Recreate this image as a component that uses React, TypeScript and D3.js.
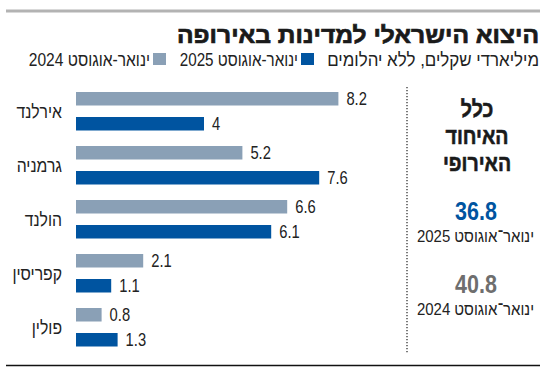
import React from "react";
import * as d3 from "d3";

const countries = ["אירלנד", "גרמניה", "הולנד", "קפריסין", "פולין"];
const series = ["2024", "2025"];
const values2024 = [8.2, 5.2, 6.6, 2.1, 0.8];
const values2025 = [4, 7.6, 6.1, 1.1, 1.3];
const totals = [
  { year: "2025", value: 36.8 },
  { year: "2024", value: 40.8 },
];
const headingLines = ["כלל", "האיחוד", "האירופי"];

const W = 550;
const H = 371;
const FONT = "'Liberation Sans', Arial, sans-serif";
const colors: Record<string, string> = { "2024": "#8aa0b6", "2025": "#0054a0" };

// text squeezed horizontally around its anchor, to mimic the condensed font
const T = ({ x, y, sx = 1, children, ...rest }: any) => (
  <text transform={`translate(${x},${y}) scale(${sx},1)`} {...rest}>
    {children}
  </text>
);

export default function App() {
  const x = d3.scaleLinear().domain([0, 10]).range([76, 396]);
  const y0 = d3
    .scaleBand<string>()
    .domain(countries)
    .range([92, 346.5])
    .paddingInner(0.287)
    .paddingOuter(0);
  const y1 = d3
    .scaleBand<string>()
    .domain(series)
    .range([0, y0.bandwidth()])
    .paddingInner(0.46);

  const rows = countries.map((c, i) => ({
    country: c,
    vals: [
      { s: "2024", v: values2024[i] },
      { s: "2025", v: values2025[i] },
    ],
  }));

  return (
    <svg
      width={W}
      height={H}
      style={{ position: "absolute", left: 0, top: 0, background: "#fff" }}
      fontFamily={FONT}
    >
      <line x1={6} x2={540} y1={11} y2={11} stroke="#b3b3b3" strokeWidth={3} />
      <text
        x={539}
        y={43}
        textAnchor="end"
        fontSize={23}
        fontWeight="bold"
        fill="#1a1a1a"
        stroke="#1a1a1a"
        strokeWidth={0.7}
        textLength={362}
        lengthAdjust="spacingAndGlyphs"
      >
        היצוא הישראלי למדינות באירופה
      </text>

      {/* subtitle + legend */}
      <g fontSize={19} fill="#222" textAnchor="end">
        <T x={539} y={66} sx={0.89}>
          מיליארדי שקלים, ללא יהלומים
        </T>
        <rect x={301} y={53} width={13} height={12} fill={colors["2025"]} />
        <T x={298} y={66} sx={0.8}>
          ינואר-אוגוסט 2025
        </T>
        <rect x={153} y={53} width={13} height={12} fill={colors["2024"]} />
        <T x={150} y={66} sx={0.82}>
          ינואר-אוגוסט 2024
        </T>
      </g>

      {rows.map((r) => (
        <g key={r.country} transform={`translate(0,${y0(r.country)})`}>
          <T
            x={62}
            y={y0.bandwidth() / 2 + 7}
            sx={0.83}
            textAnchor="end"
            fontSize={19}
            fill="#222"
          >
            {r.country}
          </T>
          {r.vals.map((d) => (
            <g key={d.s}>
              <rect
                x={x(0)}
                y={y1(d.s)}
                width={x(d.v) - x(0)}
                height={y1.bandwidth()}
                fill={colors[d.s]}
              />
              <T
                x={x(d.v) + 8}
                y={(y1(d.s) as number) + y1.bandwidth() / 2 + 6.5}
                sx={0.82}
                fontSize={18}
                fill="#222"
              >
                {d.v}
              </T>
            </g>
          ))}
        </g>
      ))}

      <line
        x1={407}
        x2={407}
        y1={87}
        y2={353}
        stroke="#333"
        strokeWidth={1.3}
        strokeDasharray="1.3,1.7"
      />

      <g
        textAnchor="middle"
        fontWeight="bold"
        fontSize={23}
        fill="#1a1a1a"
        stroke="#1a1a1a"
        strokeWidth={0.6}
      >
        {headingLines.map((l, i) => (
          <T key={l} x={477} y={117 + i * 27} sx={0.85}>
            {l}
          </T>
        ))}
      </g>

      {totals.map((t, i) => (
        <g key={t.year} transform={`translate(0,${i * 73})`}>
          <T
            x={476}
            y={220}
            sx={0.86}
            textAnchor="middle"
            fontWeight="bold"
            fontSize={25}
            fill={t.year === "2025" ? "#0054a0" : "#6e6e6e"}
          >
            {t.value}
          </T>
          <T x={475.5} y={242} sx={0.88} textAnchor="middle" fontSize={17} fill="#222">
            {`ינואר־אוגוסט ${t.year}`}
          </T>
        </g>
      ))}

      <line x1={6} x2={540} y1={365.5} y2={365.5} stroke="#111" strokeWidth={1.5} />
    </svg>
  );
}
